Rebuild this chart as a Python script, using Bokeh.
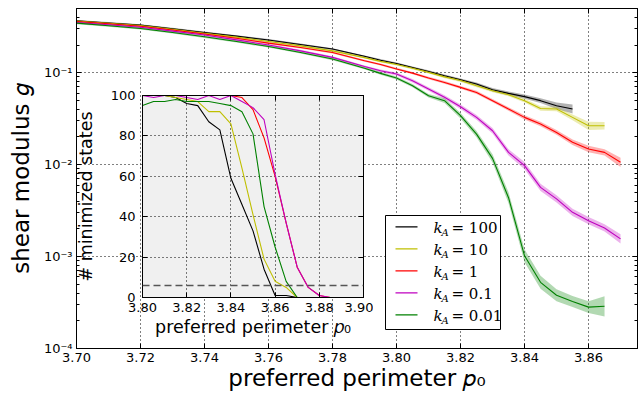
import numpy as np
from bokeh.plotting import figure
from bokeh.models import (FixedTicker, LinearAxis, LogAxis, CustomJSTickFormatter, Span,
                          BoxAnnotation, Label, Range1d)
from bokeh.layouts import column
from bokeh.embed import file_html
from bokeh.resources import INLINE

# ---------------- data: main panel (shear modulus g vs p0) ----------------
p0 = [3.700, 3.710, 3.720, 3.730, 3.740, 3.750, 3.760, 3.770, 3.780, 3.790,
      3.795, 3.800, 3.805, 3.810, 3.815, 3.820, 3.825, 3.830, 3.835, 3.840,
      3.845, 3.850, 3.855, 3.860, 3.865, 3.870]

g_kA100 = [0.367, 0.348, 0.330, 0.301, 0.274, 0.250, 0.227, 0.203, 0.181, 0.151,
           0.137, 0.126, 0.114, 0.103, 0.0927, 0.0839, 0.0753, 0.0653, 0.0596, 0.0550,
           0.0497, 0.0438, 0.0403]
g_kA10 = [0.365, 0.345, 0.326, 0.297, 0.269, 0.244, 0.219, 0.196, 0.173, 0.146,
          0.133, 0.123, 0.112, 0.101, 0.0902, 0.0822, 0.0723, 0.0637, 0.0577, 0.0497,
          0.0409, 0.0403, 0.0327, 0.0265, 0.0265]
g_kA1 = [0.361, 0.341, 0.321, 0.292, 0.264, 0.237, 0.210, 0.188, 0.166, 0.135,
         0.123, 0.110, 0.0991, 0.0875, 0.0785, 0.0693, 0.0611, 0.0497, 0.0403, 0.0327,
         0.0277, 0.0224, 0.0175, 0.0148, 0.0136, 0.0106]
g_kA01 = [0.352, 0.333, 0.313, 0.284, 0.257, 0.228, 0.200, 0.173, 0.147, 0.117,
          0.105, 0.0968, 0.0818, 0.0665, 0.0540, 0.0427, 0.0327, 0.0234, 0.0136, 0.00977,
          0.00566, 0.00424, 0.00303, 0.00246, 0.00205, 0.00156]
g_kA001 = [0.347, 0.325, 0.303, 0.274, 0.246, 0.219, 0.193, 0.166, 0.141, 0.112,
           0.0984, 0.0875, 0.0723, 0.0562, 0.0497, 0.0341, 0.0215, 0.0117, 0.00437, 0.00102,
           0.000525, 0.00038, 0.000324, 0.000282, 0.000288]

# error band half-widths (decades)
err_kA100 = [0.010, 0.010, 0.010, 0.010, 0.010, 0.010, 0.010, 0.010, 0.010, 0.010,
             0.012, 0.012, 0.012, 0.013, 0.014, 0.015, 0.016, 0.018, 0.020, 0.022,
             0.026, 0.035, 0.050]
err_kA10 = [0.010, 0.010, 0.010, 0.010, 0.010, 0.010, 0.010, 0.010, 0.010, 0.010,
            0.012, 0.012, 0.013, 0.013, 0.014, 0.015, 0.016, 0.017, 0.018, 0.020,
            0.025, 0.025, 0.030, 0.045, 0.040]
err_kA1 = [0.010, 0.010, 0.010, 0.010, 0.010, 0.010, 0.010, 0.010, 0.010, 0.010,
           0.012, 0.012, 0.013, 0.014, 0.015, 0.016, 0.017, 0.018, 0.020, 0.022,
           0.024, 0.026, 0.030, 0.035, 0.035, 0.050]
err_kA01 = [0.012, 0.012, 0.012, 0.012, 0.012, 0.012, 0.012, 0.012, 0.012, 0.012,
            0.015, 0.016, 0.018, 0.020, 0.022, 0.024, 0.026, 0.030, 0.035, 0.040,
            0.040, 0.040, 0.040, 0.040, 0.040, 0.050]
err_kA001 = [0.012, 0.012, 0.012, 0.012, 0.012, 0.012, 0.012, 0.012, 0.012, 0.012,
             0.015, 0.016, 0.018, 0.020, 0.025, 0.030, 0.035, 0.045, 0.060, 0.070,
             0.070, 0.065, 0.060, 0.065, 0.110]

# ---------------- data: inset (# minimized states vs p0) ----------------
p0_inset = [3.800, 3.805, 3.810, 3.815, 3.820, 3.825, 3.830, 3.835, 3.840, 3.845,
            3.850, 3.855, 3.860, 3.865, 3.870, 3.875, 3.880, 3.885, 3.890, 3.895, 3.900]
n_kA100 = [100, 100, 100, 99, 96, 95, 87, 83, 59, 46, 33, 14, 1, 1, 0, 0, 0, 0, 0, 0, 0]
n_kA10 = [100, 100, 100, 99, 98, 97, 92, 92, 86, 64, 41, 19, 8, 5, 0, 0, 0, 0, 0, 0, 0]
n_kA1 = [100, 100, 100, 100, 100, 100, 100, 100, 100, 99, 93, 79, 60, 37, 15, 5, 1, 0, 0, 0, 0]
n_kA01 = [100, 99, 100, 100, 99, 98, 100, 98, 100, 97, 94, 88, 61, 37, 15, 5, 1, 0, 0, 0, 0]
n_kA001 = [95, 97, 97, 98, 97, 97, 97, 96, 95, 92, 81, 45, 25, 8, 0, 0, 0, 0, 0, 0, 0]
threshold = 6

kA_labels = ["100", "10", "1", "0.1", "0.01"]
colors = ["#000000", "#bfbf00", "#ff0000", "#bf00bf", "#008000"]

x_ticks = [3.70, 3.72, 3.74, 3.76, 3.78, 3.80, 3.82, 3.84, 3.86]
y_ticks = [1e-4, 1e-3, 1e-2, 1e-1]
y_minor = [m * d for d in [1e-4, 1e-3, 1e-2, 1e-1] for m in range(2, 10) if m * d <= 0.5]
ix_ticks = [3.80, 3.82, 3.84, 3.86, 3.88, 3.90]
iy_ticks = [0, 20, 40, 60, 80, 100]

FONT = "DejaVu Sans"
series_g = [g_kA100, g_kA10, g_kA1, g_kA01, g_kA001]
series_e = [err_kA100, err_kA10, err_kA1, err_kA01, err_kA001]
series_n = [n_kA100, n_kA10, n_kA1, n_kA01, n_kA001]

# ---------------- main figure ----------------
p = figure(frame_width=561, frame_height=340,
           x_range=Range1d(3.70, 3.8753), y_range=Range1d(1e-4, 0.5),
           y_axis_type="log", output_backend="svg", toolbar_location=None,
           min_border_left=76, min_border_right=4, min_border_top=8, min_border_bottom=44)
p.background_fill_color = "white"
p.border_fill_color = "white"
p.outline_line_color = "black"

xt = FixedTicker(ticks=x_ticks)
yt = FixedTicker(ticks=y_ticks, minor_ticks=y_minor)
sup_code = """
const e = Math.round(Math.log10(tick));
const sup = {"-": "\u207b", "0": "\u2070", "1": "\u00b9", "2": "\u00b2", "3": "\u00b3", "4": "\u2074"};
return "10" + String(e).split("").map(c => sup[c]).join("");
"""
p.xaxis.ticker = xt
p.yaxis.ticker = yt
p.yaxis.formatter = CustomJSTickFormatter(code=sup_code)
p.xaxis.formatter = CustomJSTickFormatter(code="return tick.toFixed(2);")
for ax in [p.xaxis[0], p.yaxis[0]]:
    ax.major_tick_in = 5
    ax.major_tick_out = 0
    ax.minor_tick_in = 3
    ax.minor_tick_out = 0
    ax.major_label_text_font = FONT
    ax.major_label_text_font_size = "13px"
    ax.major_label_text_color = "black"
    ax.axis_label_text_font = FONT
    ax.axis_label_text_font_style = "normal"
    ax.axis_label_text_font_size = "23px"
    ax.axis_label_text_color = "black"
    ax.axis_line_color = "black"
    ax.major_tick_line_color = "black"
    ax.minor_tick_line_color = "black"
    ax.major_label_standoff = 4
p.xaxis.axis_label_standoff = 0
p.yaxis.axis_label_standoff = 7
p.xaxis.axis_label = "preferred perimeter \U0001D45D\u2080"
p.yaxis.axis_label = "shear modulus \U0001D454"

top_ax = LinearAxis(ticker=xt, formatter=CustomJSTickFormatter(code="return '';"),
                    major_tick_in=5, major_tick_out=0, minor_tick_line_color=None,
                    major_label_standoff=0, major_label_text_font_size="1px")
right_ax = LogAxis(ticker=yt, formatter=CustomJSTickFormatter(code="return '';"),
                   major_tick_in=5, major_tick_out=0, minor_tick_in=3, minor_tick_out=0,
                   major_label_standoff=0, major_label_text_font_size="1px")
p.add_layout(top_ax, "above")
p.add_layout(right_ax, "right")

for g in [p.xgrid[0], p.ygrid[0]]:
    g.grid_line_color = "black"
    g.grid_line_dash = "1 3"
    g.grid_line_width = 1
p.xgrid.ticker = xt
p.ygrid.ticker = yt

for g, e, c in zip(series_g, series_e, colors):
    x = np.array(p0[:len(g)])
    ga = np.array(g)
    ea = np.array(e)
    p.varea(x=x, y1=ga * 10 ** (-ea), y2=ga * 10 ** ea, fill_color=c, fill_alpha=0.3)
for g, c in zip(series_g, colors):
    p.line(p0[:len(g)], g, line_color=c, line_width=1.1)

# legend (screen units relative to frame)
p.add_layout(BoxAnnotation(left=309, right=424, bottom=19, top=133,
                           left_units="screen", right_units="screen",
                           top_units="screen", bottom_units="screen",
                           fill_color="white", fill_alpha=1.0,
                           line_color="black", line_width=1, line_alpha=1.0))
rows = [121, 99, 77, 55, 33]
for lab, c, yy in zip(kA_labels, colors, rows):
    p.add_layout(BoxAnnotation(left=319, right=341, bottom=yy, top=yy + 1.3,
                               left_units="screen", right_units="screen",
                               top_units="screen", bottom_units="screen",
                               fill_color=c, fill_alpha=1.0, line_color=None))
    p.add_layout(Label(x=357, y=yy, x_units="screen", y_units="screen", text="k",
                       text_font="DejaVu Serif", text_font_style="italic",
                       text_font_size="15px", text_baseline="middle", text_color="black"))
    p.add_layout(Label(x=365, y=yy - 5, x_units="screen", y_units="screen", text="A",
                       text_font="DejaVu Serif", text_font_style="italic",
                       text_font_size="10px", text_baseline="middle", text_color="black"))
    p.add_layout(Label(x=375, y=yy, x_units="screen", y_units="screen", text="= " + lab,
                       text_font="DejaVu Serif", text_font_size="15px",
                       text_baseline="middle", text_color="black"))

# ---------------- inset figure ----------------
ins = figure(frame_width=221, frame_height=202,
             x_range=Range1d(3.80, 3.90), y_range=Range1d(0, 100),
             output_backend="svg", toolbar_location=None,
             min_border_left=60, min_border_right=16, min_border_top=10, min_border_bottom=42)
ins.background_fill_color = "#f0f0f0"
ins.border_fill_color = None
ins.outline_line_color = "black"
ixt = FixedTicker(ticks=ix_ticks)
iyt = FixedTicker(ticks=iy_ticks)
ins.xaxis.ticker = ixt
ins.yaxis.ticker = iyt
ins.xaxis.formatter = CustomJSTickFormatter(code="return tick.toFixed(2);")
for ax in [ins.xaxis[0], ins.yaxis[0]]:
    ax.major_tick_in = 5
    ax.major_tick_out = 0
    ax.minor_tick_line_color = None
    ax.major_label_text_font = FONT
    ax.major_label_text_font_size = "13px"
    ax.major_label_text_color = "black"
    ax.axis_label_text_font = FONT
    ax.axis_label_text_font_style = "normal"
    ax.axis_label_text_font_size = "17.5px"
    ax.axis_label_text_color = "black"
    ax.axis_line_color = "black"
ins.xaxis.major_label_standoff = 5
ins.xaxis.axis_label_standoff = 2
ins.yaxis.major_label_standoff = 7
ins.yaxis.axis_label_standoff = 12
ins.xaxis.axis_label = "preferred perimeter \U0001D45D\u2080"
ins.yaxis.axis_label = "# minimized states"
ins.add_layout(LinearAxis(ticker=ixt, formatter=CustomJSTickFormatter(code="return '';"),
                          major_tick_in=5, major_tick_out=0, minor_tick_line_color=None,
                          major_label_standoff=0, major_label_text_font_size="1px"), "above")
ins.add_layout(LinearAxis(ticker=iyt, formatter=CustomJSTickFormatter(code="return '';"),
                          major_tick_in=5, major_tick_out=0, minor_tick_line_color=None,
                          major_label_standoff=0, major_label_text_font_size="1px"), "right")
for g in [ins.xgrid[0], ins.ygrid[0]]:
    g.grid_line_color = "black"
    g.grid_line_dash = "1 3"
ins.xgrid.ticker = ixt
ins.ygrid.ticker = iyt
for n, c in zip(series_n, colors):
    ins.line(p0_inset, n, line_color=c, line_width=1.1)
ins.add_layout(Span(location=threshold, dimension="width", line_color="#555555",
                    line_dash="7 4", line_width=1.5))
ins.styles = {"position": "absolute", "left": "66px", "top": "85px"}

layout = column(p, ins)
open("out.html", "w").write(file_html(layout, INLINE))
